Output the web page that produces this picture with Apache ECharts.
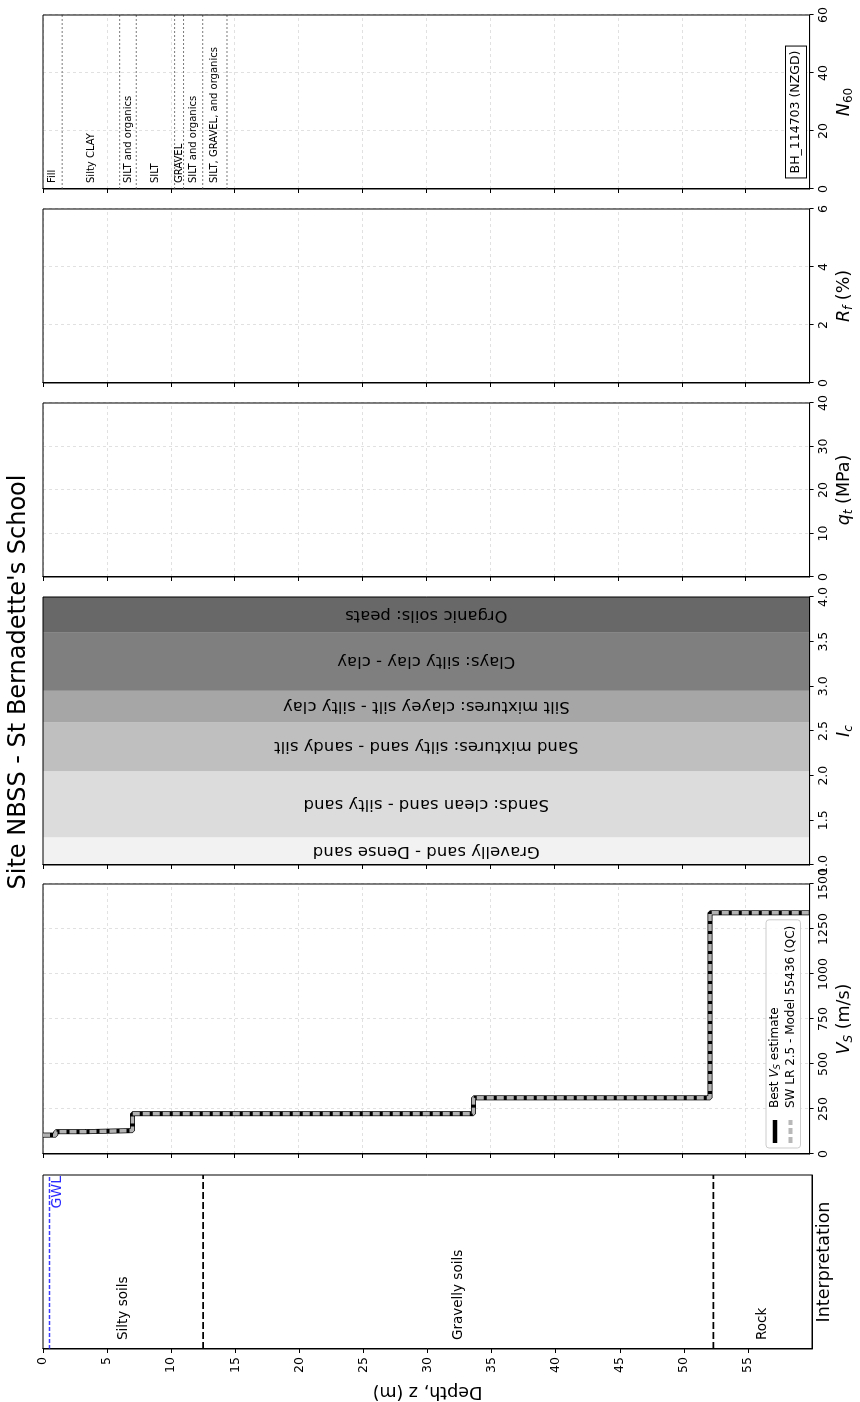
<!DOCTYPE html>
<html>
<head>
<meta charset="utf-8">
<script src="https://cdn.jsdelivr.net/npm/echarts@6/dist/echarts.min.js"></script>
<style>
  html, body { margin: 0; padding: 0; background: #fff; overflow: hidden; width: 860px; height: 1402px; }
  /* The log is laid out with depth running down, then turned a quarter-turn anticlockwise */
  #chart { position: absolute; left: 0; top: 0; width: 1402px; height: 860px;
           transform-origin: 0 0; transform: translate(0, 1402px) rotate(-90deg); }
</style>
</head>
<body>
<div id="chart"></div>
<script>
// ---- site data -----------------------------------------------------------
const DEPTH_MAX = 60;
const depthTicks = [0, 5, 10, 15, 20, 25, 30, 35, 40, 45, 50, 55];

// shear-wave velocity profiles (layer top depth in m, Vs in m/s)
const vsLayerTops = [0, 1.0, 3.3, 7.0, 33.7, 52.2];
const bestVs      = [105, 124, 130, 224, 312, 1340];
const swlrVs      = [105, 124, 130, 224, 312, 1340];

// interpreted units
const interpBounds = [12.5, 52.3];
const interpLabels = ['Silty soils', 'Gravelly soils', 'Rock'];
const gwlDepth = 0.5;

// soil behaviour type zones on the Ic axis
const icBounds = [1.0, 1.31, 2.05, 2.6, 2.95, 3.6, 4.0];
const icZones = [
  'Gravelly sand - Dense sand',
  'Sands: clean sand - silty sand',
  'Sand mixtures: silty sand - sandy silt',
  'Silt mixtures: clayey silt - silty clay',
  'Clays: silty clay - clay',
  'Organic soils: peats'
];

// borehole log
const bhBounds = [0, 1.5, 6.0, 7.3, 10.3, 11.0, 12.5, 14.4];
const bhLayers = ['Fill', 'Silty CLAY', 'SILT and organics', 'SILT', 'GRAVEL',
                  'SILT and organics', 'SILT, GRAVEL, and organics'];
const bhName = 'BH_114703 (NZGD)';

// ---- styling -------------------------------------------------------------
const FONT = 'DejaVu Sans';
const zoneFill = ['#f2f2f2', '#dcdcdc', '#bfbfbf', '#a6a6a6', '#7f7f7f', '#686868'];
const GRID_TOP = 43, GRID_H = 769;
const panels = [
  { left: 53,   width: 174 },  // interpretation
  { left: 248,  width: 270 },  // Vs
  { left: 537,  width: 268 },  // Ic
  { left: 825,  width: 174 },  // qt
  { left: 1019, width: 174 },  // Rf
  { left: 1213, width: 174 }   // N60
];

const tickFont = { fontFamily: FONT, fontSize: 12.5, color: '#000' };
const dashGrid = { show: true, lineStyle: { color: '#dadada', type: [3, 3], width: 0.8 } };
const NAME_SIZE = 17.5;
const nameRich = {
  i:  { fontFamily: FONT, fontSize: NAME_SIZE, fontStyle: 'italic', color: '#000', lineHeight: 21 },
  n:  { fontFamily: FONT, fontSize: NAME_SIZE, color: '#000', lineHeight: 21 },
  s:  { fontFamily: FONT, fontSize: 12, fontStyle: 'italic', color: '#000', lineHeight: 7, verticalAlign: 'bottom' },
  su: { fontFamily: FONT, fontSize: 12, color: '#000', lineHeight: 7, verticalAlign: 'bottom' }
};

// step profile: two points per layer
function stepProfile(tops, values, bottom) {
  const pts = [];
  values.forEach((v, i) => {
    const z1 = i + 1 < tops.length ? tops[i + 1] : bottom;
    pts.push([v, tops[i]], [v, z1]);
  });
  return pts;
}

const grids = panels.map(p => ({
  left: p.left, width: p.width, top: GRID_TOP, height: GRID_H,
  show: true, borderColor: '#000', borderWidth: 1, backgroundColor: 'transparent', z: 3
}));

const yAxes = panels.map((p, i) => ({
  gridIndex: i, type: 'value', inverse: true, min: 0, max: DEPTH_MAX, interval: 5,
  name: i === 0 ? 'Depth, z (m)' : '',
  nameLocation: 'middle', nameGap: 34, nameRotate: 90,
  nameTextStyle: { fontFamily: FONT, fontSize: NAME_SIZE, color: '#000' },
  axisLine: { show: true, lineStyle: { color: '#000', width: 1 } },
  axisTick: { show: true, length: 4, lineStyle: { color: '#000' }, customValues: depthTicks },
  axisLabel: Object.assign({ show: i === 0, margin: 8, customValues: depthTicks }, tickFont),
  splitLine: (i === 1 || i >= 3) ? dashGrid : { show: false }
}));

function xAxis(i, o) {
  return Object.assign({
    gridIndex: i, type: 'value', position: 'bottom',
    nameLocation: 'middle', nameGap: 20,
    nameTextStyle: { rich: nameRich, fontFamily: FONT, fontSize: NAME_SIZE, color: '#000' },
    axisLine: { show: true, onZero: false, lineStyle: { color: '#000', width: 1 } },
    axisTick: { show: true, length: 4, lineStyle: { color: '#000' } },
    axisLabel: Object.assign({ margin: 8, showMaxLabel: true, showMinLabel: true,
                               formatter: v => String(v) }, tickFont),
    splitLine: dashGrid
  }, o);
}

const xAxes = [
  xAxis(0, { min: 0, max: 1, name: 'Interpretation', nameGap: 3,
             axisTick: { show: false }, axisLabel: { show: false }, splitLine: { show: false } }),
  xAxis(1, { min: 0, max: 1500, interval: 250, name: '{i|V}{s|S}{n| (m/s)}' }),
  xAxis(2, { min: 1, max: 4, interval: 0.5, name: '{i|I}{s|c}', splitLine: { show: false },
             axisLabel: Object.assign({ margin: 8, formatter: v => v.toFixed(1) }, tickFont) }),
  xAxis(3, { min: 0, max: 40, interval: 10, name: '{i|q}{s|t}{n| (MPa)}' }),
  xAxis(4, { min: 0, max: 6, interval: 2, name: '{i|R}{s|f}{n| (%)}' }),
  xAxis(5, { min: 0, max: 60, interval: 20, name: '{i|N}{su|60}' })
];

const interpEdges = [0].concat(interpBounds, [DEPTH_MAX]);

const series = [
  // Ic soil behaviour zones
  {
    type: 'custom', xAxisIndex: 2, yAxisIndex: 2, z: -1, silent: true,
    data: icZones.map((t, i) => [icBounds[i], icBounds[i + 1]]),
    renderItem(params, api) {
      const i = params.dataIndex;
      const a = api.coord([api.value(0), 0]);
      const b = api.coord([api.value(1), DEPTH_MAX]);
      return { type: 'group', children: [
        { type: 'rect', shape: { x: a[0], y: a[1], width: b[0] - a[0], height: b[1] - a[1] },
          style: { fill: zoneFill[i] } },
        { type: 'text', x: (a[0] + b[0]) / 2, y: (a[1] + b[1]) / 2, rotation: Math.PI / 2,
          style: { text: icZones[i], fontFamily: FONT, fontSize: 16.5, fill: '#000',
                   align: 'center', verticalAlign: 'middle' } }
      ] };
    }
  },
  // Vs profiles
  {
    name: 'Best Vs estimate', type: 'line', xAxisIndex: 1, yAxisIndex: 1,
    data: stepProfile(vsLayerTops, bestVs, DEPTH_MAX),
    showSymbol: false, symbol: 'none', z: 2,
    lineStyle: { color: '#000', width: 5 }, itemStyle: { color: '#000' }
  },
  {
    name: 'SW LR 2.5 - Model 55436 (QC)', type: 'line', xAxisIndex: 1, yAxisIndex: 1,
    data: stepProfile(vsLayerTops, swlrVs, DEPTH_MAX),
    showSymbol: false, symbol: 'none', z: 3,
    lineStyle: { color: '#b3b3b3', width: 3.6, type: [7, 3] }, itemStyle: { color: '#b8b8b8' }
  },
  // interpreted unit boundaries
  {
    type: 'custom', xAxisIndex: 0, yAxisIndex: 0, silent: true,
    data: interpBounds.map(d => [0, d]),
    renderItem(params, api) {
      const a = api.coord([0, api.value(1)]);
      const b = api.coord([1, api.value(1)]);
      return { type: 'line', shape: { x1: a[0], y1: a[1], x2: b[0], y2: b[1] },
               style: { stroke: '#000', lineWidth: 1.8, lineDash: [7, 3] } };
    }
  },
  // interpreted unit names
  {
    type: 'custom', xAxisIndex: 0, yAxisIndex: 0, silent: true,
    data: interpLabels.map((t, i) => [0, (interpEdges[i] + interpEdges[i + 1]) / 2]),
    renderItem(params, api) {
      const p = api.coord([0, api.value(1)]);
      return { type: 'text', x: p[0] + 9, y: p[1],
               style: { text: interpLabels[params.dataIndex], fontFamily: FONT, fontSize: 13.5,
                        fill: '#000', align: 'left', verticalAlign: 'middle' } };
    }
  },
  // groundwater level
  {
    type: 'custom', xAxisIndex: 0, yAxisIndex: 0, silent: true,
    data: [[0, gwlDepth]],
    renderItem(params, api) {
      const a = api.coord([0, api.value(1)]);
      const b = api.coord([1, api.value(1)]);
      return { type: 'group', children: [
        { type: 'line', shape: { x1: a[0], y1: a[1], x2: b[0], y2: b[1] },
          style: { stroke: '#3d3dff', lineWidth: 1.5, lineDash: [4, 2] } },
        { type: 'text', x: b[0] - 1, y: b[1] + 1,
          style: { text: 'GWL', fontFamily: FONT, fontSize: 14, fill: '#2b2bff',
                   align: 'right', verticalAlign: 'top' } }
      ] };
    }
  },
  // borehole layer boundaries
  {
    type: 'custom', xAxisIndex: 5, yAxisIndex: 5, silent: true,
    data: bhBounds.slice(1).map(d => [0, d]),
    renderItem(params, api) {
      const a = api.coord([0, api.value(1)]);
      const b = api.coord([60, api.value(1)]);
      return { type: 'line', shape: { x1: a[0], y1: a[1], x2: b[0], y2: b[1] },
               style: { stroke: '#7a7a7a', lineWidth: 1, lineDash: [2, 2] } };
    }
  },
  // borehole layer descriptions
  {
    type: 'custom', xAxisIndex: 5, yAxisIndex: 5, silent: true,
    data: bhLayers.map((t, i) => [0, (bhBounds[i] + bhBounds[i + 1]) / 2]),
    renderItem(params, api) {
      const p = api.coord([0, api.value(1)]);
      return { type: 'text', x: p[0] + 6, y: p[1],
               style: { text: bhLayers[params.dataIndex], fontFamily: FONT, fontSize: 10,
                        fill: '#000', align: 'left', verticalAlign: 'middle' } };
    }
  }
];

const legendNames = {
  'Best Vs estimate': '{n|Best }{i|V}{s|S}{n| estimate}',
  'SW LR 2.5 - Model 55436 (QC)': '{n|SW LR 2.5 - Model 55436 (QC)}'
};

const option = {
  animation: false,
  backgroundColor: '#fff',
  grid: grids,
  xAxis: xAxes,
  yAxis: yAxes,
  legend: {
    data: [
      { name: 'Best Vs estimate', icon: 'rect' },
      { name: 'SW LR 2.5 - Model 55436 (QC)',
        icon: 'path://M0,0h6v4h-6z M9,0h6v4h-6z M18,0h5v4h-5z' }
    ],
    orient: 'vertical', left: 254, top: 766,
    itemWidth: 23, itemHeight: 4.5, itemGap: 2,
    padding: [3, 6, 4, 5],
    backgroundColor: 'rgba(255,255,255,0.85)', borderColor: '#cccccc', borderWidth: 1, borderRadius: 3,
    selectedMode: false,
    formatter: n => legendNames[n],
    textStyle: {
      padding: [0, 0, 0, 7],
      rich: {
        n: { fontFamily: FONT, fontSize: 12, color: '#000', lineHeight: 15 },
        i: { fontFamily: FONT, fontSize: 12, fontStyle: 'italic', color: '#000', lineHeight: 15 },
        s: { fontFamily: FONT, fontSize: 8.5, fontStyle: 'italic', color: '#000', lineHeight: 5, verticalAlign: 'bottom' }
      }
    }
  },
  graphic: [
    { type: 'text', x: 720, y: 19,
      style: { text: "Site NBSS - St Bernadette's School", fontFamily: FONT, fontSize: 24,
               fill: '#000', align: 'center', verticalAlign: 'middle' } },
    { type: 'text', x: 1290, y: 796, z: 10,
      style: { text: bhName, fontFamily: FONT, fontSize: 12.5, fill: '#000',
               align: 'center', verticalAlign: 'middle',
               backgroundColor: '#fff', borderColor: '#000', borderWidth: 1, padding: [4, 4, 3, 4] } }
  ],
  series: series
};

const chart = echarts.init(document.getElementById('chart'), null, { renderer: 'canvas', width: 1402, height: 860 });
chart.setOption(option);
</script>
</body>
</html>
